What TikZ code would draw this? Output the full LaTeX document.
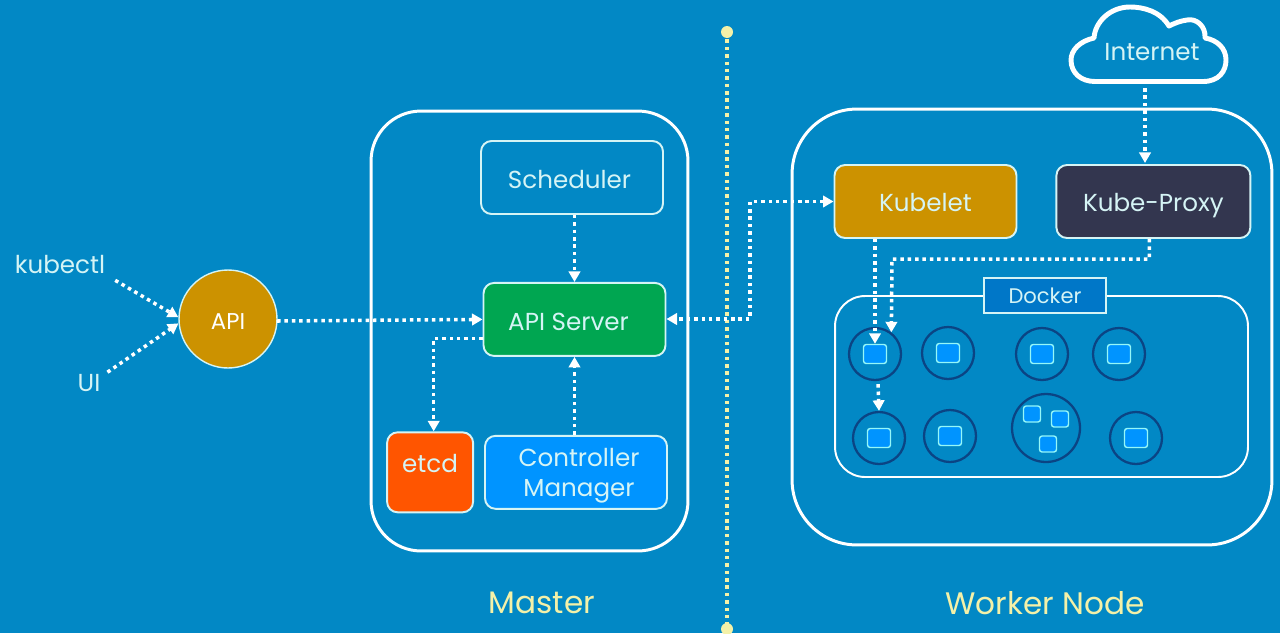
\documentclass[tikz,border=0pt]{standalone}
\usepackage{fontspec}
\setmainfont{Poppins}
\usepackage{tikz}
\usetikzlibrary{arrows.meta, positioning, calc}

\definecolor{bgblue}{HTML}{0288C5}
\definecolor{palecyan}{HTML}{D5F4F5}
\definecolor{paleyellow}{HTML}{F4F1A8}
\definecolor{kubegold}{HTML}{CC9200}
\definecolor{kubegreen}{HTML}{00A651}
\definecolor{etcdorange}{HTML}{FF5500}
\definecolor{ctrlblue}{HTML}{0094FF}
\definecolor{proxynavy}{HTML}{33364F}
\definecolor{dockerblue}{HTML}{0077C8}
\definecolor{poddark}{HTML}{0B4484}

\begin{document}
\begin{tikzpicture}[
    x=0.02cm, y=-0.02cm,
    >={Stealth[length=6pt,width=6.5pt,inset=0pt]},
    font=\fontsize{14}{17}\selectfont,
    % blocks
    region/.style={rectangle, draw=white, line width=1.7pt, rounded corners=1cm},
    block/.style={rectangle, draw=palecyan, line width=1.1pt, rounded corners=6pt, text=palecyan, align=center, minimum width=3.64cm, minimum height=1.46cm, inner sep=0pt},
    oneline/.style={block, text height=13pt, text depth=0pt},
    pod/.style={circle, draw=poddark, line width=1.3pt, minimum size=1.04cm, inner sep=0pt},
    container/.style={rectangle, draw=palecyan!70!cyan, line width=0.8pt, fill=ctrlblue, rounded corners=1.5pt, minimum width=0.46cm, minimum height=0.38cm, inner sep=0pt},
    smallcontainer/.style={container, minimum width=0.34cm, minimum height=0.32cm},
    flow/.style={draw=white, line width=2pt, dash pattern=on 2pt off 2.2pt, ->},
    caption/.style={text=paleyellow, font=\fontsize{17.7}{20}\selectfont, inner sep=0pt}
  ]
  \useasboundingbox[fill=bgblue] (0,0) rectangle (1280,633);

  % --- regions ---
  \node[region, minimum width=6.34cm, minimum height=8.8cm] (master) at (529.5,331) {};
  \node[region, rounded corners=1.3cm, minimum width=9.6cm, minimum height=8.72cm] (worker) at (1032,327) {};
  \node[caption] (mastertext) at (542,603) {Master};
  \node[caption] (workertext) at (1045,603) {Worker Node};

  % --- master ---
  \node[oneline] (scheduler) at (572,177.5) {Scheduler\hspace{0.1cm}};
  \node[oneline, fill=kubegreen, below=1.34cm of scheduler, xshift=0.05cm] (apiserver) {API Server\hspace{0.24cm}};
  \node[block, fill=ctrlblue, below=1.56cm of apiserver, xshift=0.03cm] (controller) {\rule{0pt}{14pt}\hspace{0.12cm}Controller\\\hspace{0.12cm}Manager};
  \node[oneline, text height=8pt, text depth=8pt, fill=etcdorange, minimum width=1.72cm, minimum height=1.6cm, left=0.2cm of controller] (etcd) {etcd};

  % --- client side ---
  \node[circle, draw=palecyan, line width=0.8pt, fill=kubegold, text=white, minimum size=1.96cm, inner sep=0pt, text height=11.4pt, text depth=0pt, font=\fontsize{13}{14}\selectfont] (api) at (228,319) {API};
  \node[text=palecyan, inner sep=1pt] (kubectl) at (60,264) {kubectl};
  \node[text=palecyan, inner sep=1pt] (ui) at (89,383) {UI};

  % --- worker ---
  \node[oneline, text height=11pt, fill=kubegold] (kubelet) at (925.5,201.5) {Kubelet};
  \node[oneline, text height=11pt, fill=proxynavy, minimum width=3.88cm, right=0.76cm of kubelet] (proxy) {Kube-Proxy};
  \node[region, line width=1.1pt, rounded corners=0.6cm, minimum width=8.26cm, minimum height=3.62cm] (docker) at (1041.5,386.5) {};
  \node[rectangle, draw=palecyan, line width=1.1pt, fill=dockerblue, text=palecyan, minimum width=2.44cm, minimum height=0.7cm, inner sep=0pt, font=\fontsize{12}{14}\selectfont] (dockertext) at (1045,295.5) {Docker};

  \foreach \name/\px/\py in {poda/875/354, podb/948/353, podc/1042/354, podd/1119/354, pode/879/438, podf/950/436, podh/1136/438}{
    \node[pod] (\name) at (\px,\py) {};
    \node[container] (\name box) at (\px,\py) {};
  }
  \node[pod, minimum size=1.36cm] (podg) at (1046,428) {};
  \node[smallcontainer] (podg box1) at (1032,414) {};
  \node[smallcontainer] (podg box2) at (1060,419) {};
  \node[smallcontainer] (podg box3) at (1048,444) {};

  % --- internet cloud ---
  \draw[white, line width=2.8pt, line join=round]
    (1095,81.5) -- (1203,81.5)
    .. controls (1219,81.5) and (1226,71) .. (1226,60)
    .. controls (1226,48) and (1217,40) .. (1205,38)
    .. controls (1206,26) and (1196,18) .. (1187,20)
    .. controls (1180,21) and (1175,23) .. (1169,26)
    .. controls (1160,11) and (1143,7) .. (1130,7)
    .. controls (1110,7) and (1095,22) .. (1094,38)
    .. controls (1080,41) and (1071,50) .. (1071,60)
    .. controls (1071,73) and (1081,81.5) .. (1095,81.5) -- cycle;
  \node[text=palecyan, inner sep=0pt] (internet) at (1152,52) {Internet};
  \coordinate (cloudfoot) at (1145,88);
  \coordinate (proxytop) at (1145,163);
  \coordinate (proxyturn) at (892,259);

  % --- divider ---
  \draw[paleyellow, line width=2pt, dash pattern=on 2pt off 2.2pt] (727,32) coordinate (divtop) -- (727,629) coordinate (divbottom);
  \fill[paleyellow] (divtop) circle (0.12cm) (divbottom) circle (0.12cm);

  % --- connectors ---
  \draw[flow] (kubectl.south east) ++(8,5) -- (api.178);
  \draw[flow] (ui.north east) ++(5,0) -- (api.185);
  \draw[flow] (api) ++(49,2) -- (apiserver.west);
  \draw[flow] (scheduler.south -| apiserver) -- (apiserver);
  \draw[flow] (controller.north -| apiserver) -- (apiserver);
  \draw[flow] (apiserver.west) ++(0,19) -| (etcd.85);
  \draw[flow, <->] (kubelet.west) -| (750,319) -- (apiserver.east |- 750,319);
  \draw[flow] (cloudfoot) -- (proxytop);
  \draw[flow] (kubelet.south -| poda) -- (podabox.north);
  \draw[flow] (proxy.south) ++(-4,0) |- (proxyturn) -- (poda.53);
  \draw[flow] (poda.south) ++(3,3) -- (pode.north);

\end{tikzpicture}
\end{document}
